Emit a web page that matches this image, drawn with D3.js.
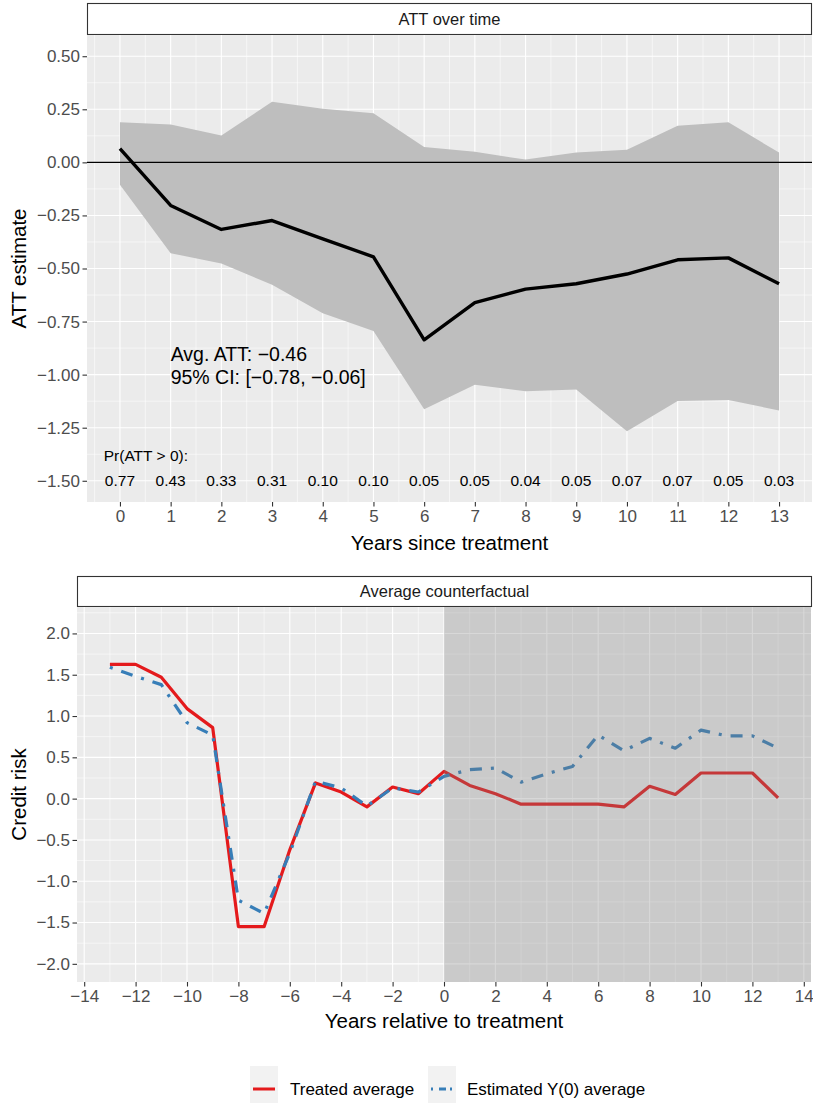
<!DOCTYPE html>
<html><head><meta charset="utf-8">
<script src="https://cdn.jsdelivr.net/npm/d3@7"></script>
<style>
html,body{margin:0;padding:0;background:#fff;}
svg{display:block;font-family:"Liberation Sans",Arial,Helvetica,sans-serif;}
</style></head>
<body>
<svg id="chart" width="813" height="1103"></svg>
<script>
// ---------- Data: ATT over time ----------
const attYears = [0,1,2,3,4,5,6,7,8,9,10,11,12,13];
const attEst   = [0.065,-0.203,-0.316,-0.274,-0.360,-0.445,-0.836,-0.661,-0.597,-0.572,-0.526,-0.459,-0.450,-0.572];
const attUpper = [0.189,0.178,0.127,0.285,0.252,0.231,0.072,0.050,0.013,0.046,0.060,0.173,0.189,0.046];
const attLower = [-0.105,-0.428,-0.476,-0.577,-0.711,-0.795,-1.163,-1.048,-1.078,-1.070,-1.267,-1.124,-1.119,-1.169];
const prPositive = ["0.77","0.43","0.33","0.31","0.10","0.10","0.05","0.05","0.04","0.05","0.07","0.07","0.05","0.03"];
const attYTicks = [-1.5,-1.25,-1,-0.75,-0.5,-0.25,0,0.25,0.5];
const avgLabel = "Avg. ATT: \u22120.46";
const ciLabel  = "95% CI: [\u22120.78, \u22120.06]";

// ---------- Data: Average counterfactual ----------
const relYears = [-13,-12,-11,-10,-9,-8,-7,-6,-5,-4,-3,-2,-1,0,1,2,3,4,5,6,7,8,9,10,11,12,13];
const treatedAvg = [1.626,1.626,1.47,1.09,0.86,-1.55,-1.55,-0.62,0.19,0.08,-0.10,0.14,0.06,0.33,0.16,0.06,-0.067,-0.067,-0.067,-0.067,-0.10,0.15,0.05,0.31,0.31,0.31,0.01];
const y0Avg      = [1.59,1.48,1.38,0.92,0.77,-1.23,-1.39,-0.66,0.21,0.13,-0.09,0.13,0.08,0.27,0.35,0.37,0.20,0.30,0.39,0.77,0.58,0.73,0.61,0.83,0.76,0.76,0.61];
const cfYTicks = [-2,-1.5,-1,-0.5,0,0.5,1,1.5,2];
const cfXTicks = [-14,-12,-10,-8,-6,-4,-2,0,2,4,6,8,10,12,14];
const legendLabels = ["Treated average","Estimated Y(0) average"];

const svg = d3.select("#chart");
const tickColor = "#333333", labColor = "#4d4d4d", panelBg = "#ebebeb";
const tickFont = 17;

function strip(x0, x1, y0, y1, text){
  svg.append("rect").attr("x",x0+0.5).attr("y",y0+0.5).attr("width",x1-x0-1).attr("height",y1-y0-1)
    .attr("fill","#fff").attr("stroke","#333").attr("stroke-width",1.1);
  svg.append("text").attr("x",(x0+x1)/2).attr("y",(y0+y1)/2).attr("dy","0.35em")
    .attr("text-anchor","middle").attr("font-size",16.5).attr("fill","#1a1a1a").text(text);
}

function grid(g, x, y, xMajor, xMinor, yMajor, yMinor, w, h){
  const c = "#ffffff";
  xMinor.forEach(v=>g.append("line").attr("x1",x(v)).attr("x2",x(v)).attr("y1",0).attr("y2",h).attr("stroke",c).attr("stroke-width",0.55));
  yMinor.forEach(v=>g.append("line").attr("y1",y(v)).attr("y2",y(v)).attr("x1",0).attr("x2",w).attr("stroke",c).attr("stroke-width",0.55));
  xMajor.forEach(v=>g.append("line").attr("x1",x(v)).attr("x2",x(v)).attr("y1",0).attr("y2",h).attr("stroke",c).attr("stroke-width",1.1));
  yMajor.forEach(v=>g.append("line").attr("y1",y(v)).attr("y2",y(v)).attr("x1",0).attr("x2",w).attr("stroke",c).attr("stroke-width",1.1));
}

function styleAxis(a){
  a.select(".domain").remove();
  a.selectAll(".tick line").attr("stroke",tickColor).attr("stroke-width",1.1);
  a.selectAll(".tick text").attr("fill",labColor).attr("font-size",tickFont).attr("font-family","Liberation Sans, Arial, sans-serif");
}

// ================= TOP PANEL =================
const T = {x0:87, x1:812, y0:35, y1:502};
strip(T.x0, T.x1, 3, T.y0, "ATT over time");
const tx = d3.scaleLinear().domain([-0.65, 13.65]).range([0, T.x1-T.x0]);
const ty = d3.scaleLinear().domain([-1.6, 0.6]).range([T.y1-T.y0, 0]);
const tg = svg.append("g").attr("transform",`translate(${T.x0},${T.y0})`);
const tw = T.x1-T.x0, th = T.y1-T.y0;
tg.append("rect").attr("width",tw).attr("height",th).attr("fill",panelBg);
grid(tg, tx, ty, attYears, d3.range(-0.5,14,1), attYTicks, d3.range(-1.625,0.6,0.25), tw, th);

const attData = attYears.map((d,i)=>({x:d, est:attEst[i], lo:attLower[i], hi:attUpper[i]}));
tg.append("path").datum(attData)
  .attr("d", d3.area().x(d=>tx(d.x)).y0(d=>ty(d.lo)).y1(d=>ty(d.hi)))
  .attr("fill","#bebebe");
tg.append("line").attr("x1",0).attr("x2",tw).attr("y1",ty(0)).attr("y2",ty(0)).attr("stroke","#000").attr("stroke-width",1.1);
tg.append("path").datum(attData)
  .attr("d", d3.line().x(d=>tx(d.x)).y(d=>ty(d.est)))
  .attr("fill","none").attr("stroke","#000").attr("stroke-width",3.4).attr("stroke-linejoin","round");

tg.append("text").attr("x",tx(1)).attr("y",ty(-0.905)).attr("dy","0.35em").attr("font-size",19.5).attr("fill","#000").text(avgLabel);
tg.append("text").attr("x",tx(1)).attr("y",ty(-1.01)).attr("dy","0.35em").attr("font-size",19.5).attr("fill","#000").text(ciLabel);
tg.append("text").attr("x",tx(-0.32)).attr("y",ty(-1.38)).attr("dy","0.35em").attr("font-size",15.5).attr("fill","#000").text("Pr(ATT > 0):");
tg.selectAll("text.pr").data(attYears).enter().append("text").attr("class","pr")
  .attr("x",d=>tx(d)).attr("y",ty(-1.5)).attr("dy","0.35em").attr("text-anchor","middle")
  .attr("font-size",15.5).attr("fill","#000").text((d,i)=>prPositive[i]);

const tAxL = tg.append("g").call(d3.axisLeft(ty).tickValues(attYTicks).tickFormat(d3.format(".2f")).tickSize(4.5).tickPadding(2.5));
styleAxis(tAxL);
const tAxB = tg.append("g").attr("transform",`translate(0,${th})`).call(d3.axisBottom(tx).tickValues(attYears).tickFormat(d3.format("d")).tickSize(4.5).tickPadding(3));
styleAxis(tAxB);

svg.append("text").attr("x",(T.x0+T.x1)/2).attr("y",550).attr("text-anchor","middle").attr("font-size",20.5).attr("fill","#000").text("Years since treatment");
svg.append("text").attr("transform",`translate(26,${(T.y0+T.y1)/2}) rotate(-90)`).attr("text-anchor","middle").attr("font-size",20.5).attr("fill","#000").text("ATT estimate");

// ================= BOTTOM PANEL =================
const B = {x0:77, x1:811, y0:607, y1:982};
strip(B.x0, 812, 576, B.y0, "Average counterfactual");
const bx = d3.scaleLinear().domain([-14.28, 14.28]).range([0, B.x1-B.x0]);
const by = d3.scaleLinear().domain([-2.22, 2.32]).range([B.y1-B.y0, 0]);
const bg = svg.append("g").attr("transform",`translate(${B.x0},${B.y0})`);
const bw = B.x1-B.x0, bh = B.y1-B.y0;
bg.append("rect").attr("width",bw).attr("height",bh).attr("fill",panelBg);
grid(bg, bx, by, cfXTicks, d3.range(-13,15,2), cfYTicks, d3.range(-2.25,2.3,0.5), bw, bh);

const cfData = relYears.map((d,i)=>({x:d, tr:treatedAvg[i], y0:y0Avg[i]}));
bg.append("path").datum(cfData)
  .attr("d", d3.line().x(d=>bx(d.x)).y(d=>by(d.tr)))
  .attr("fill","none").attr("stroke","#e41a1c").attr("stroke-width",3.2).attr("stroke-linejoin","round");
bg.append("path").datum(cfData)
  .attr("d", d3.line().x(d=>bx(d.x)).y(d=>by(d.y0)))
  .attr("fill","none").attr("stroke","#377eb8").attr("stroke-width",3.2)
  .attr("stroke-dasharray","3,9,12,9").attr("stroke-linejoin","round");
// post-treatment shaded region (drawn over the lines, translucent)
bg.append("rect").attr("x",bx(0)).attr("y",0).attr("width",bw-bx(0)).attr("height",bh)
  .attr("fill","#7f7f7f").attr("fill-opacity",0.3);

const bAxL = bg.append("g").call(d3.axisLeft(by).tickValues(cfYTicks).tickFormat(d3.format(".1f")).tickSize(4.5).tickPadding(2.5));
styleAxis(bAxL);
const bAxB = bg.append("g").attr("transform",`translate(0,${bh})`).call(d3.axisBottom(bx).tickValues(cfXTicks).tickFormat(d3.format("d")).tickSize(4.5).tickPadding(3));
styleAxis(bAxB);

svg.append("text").attr("x",(B.x0+B.x1)/2).attr("y",1028).attr("text-anchor","middle").attr("font-size",20.5).attr("fill","#000").text("Years relative to treatment");
svg.append("text").attr("transform",`translate(26,${(B.y0+B.y1)/2}) rotate(-90)`).attr("text-anchor","middle").attr("font-size",20.5).attr("fill","#000").text("Credit risk");

// ================= LEGEND =================
const lg = svg.append("g");
const keys = [{x:250, tx:290, color:"#e41a1c", dash:null},{x:428, tx:467, color:"#377eb8", dash:"2,6,7,4"}];
keys.forEach((k,i)=>{
  lg.append("rect").attr("x",k.x).attr("y",1066).attr("width",28).attr("height",37).attr("fill","#f2f2f2");
  const ln = lg.append("line").attr("x1",k.x+3).attr("x2",k.x+25).attr("y1",1089).attr("y2",1089)
    .attr("stroke",k.color).attr("stroke-width",3);
  if(k.dash) ln.attr("stroke-dasharray",k.dash);
  lg.append("text").attr("x",k.tx).attr("y",1089).attr("dy","0.35em").attr("font-size",17).attr("fill","#000").text(legendLabels[i]);
});
</script>
</body></html>
